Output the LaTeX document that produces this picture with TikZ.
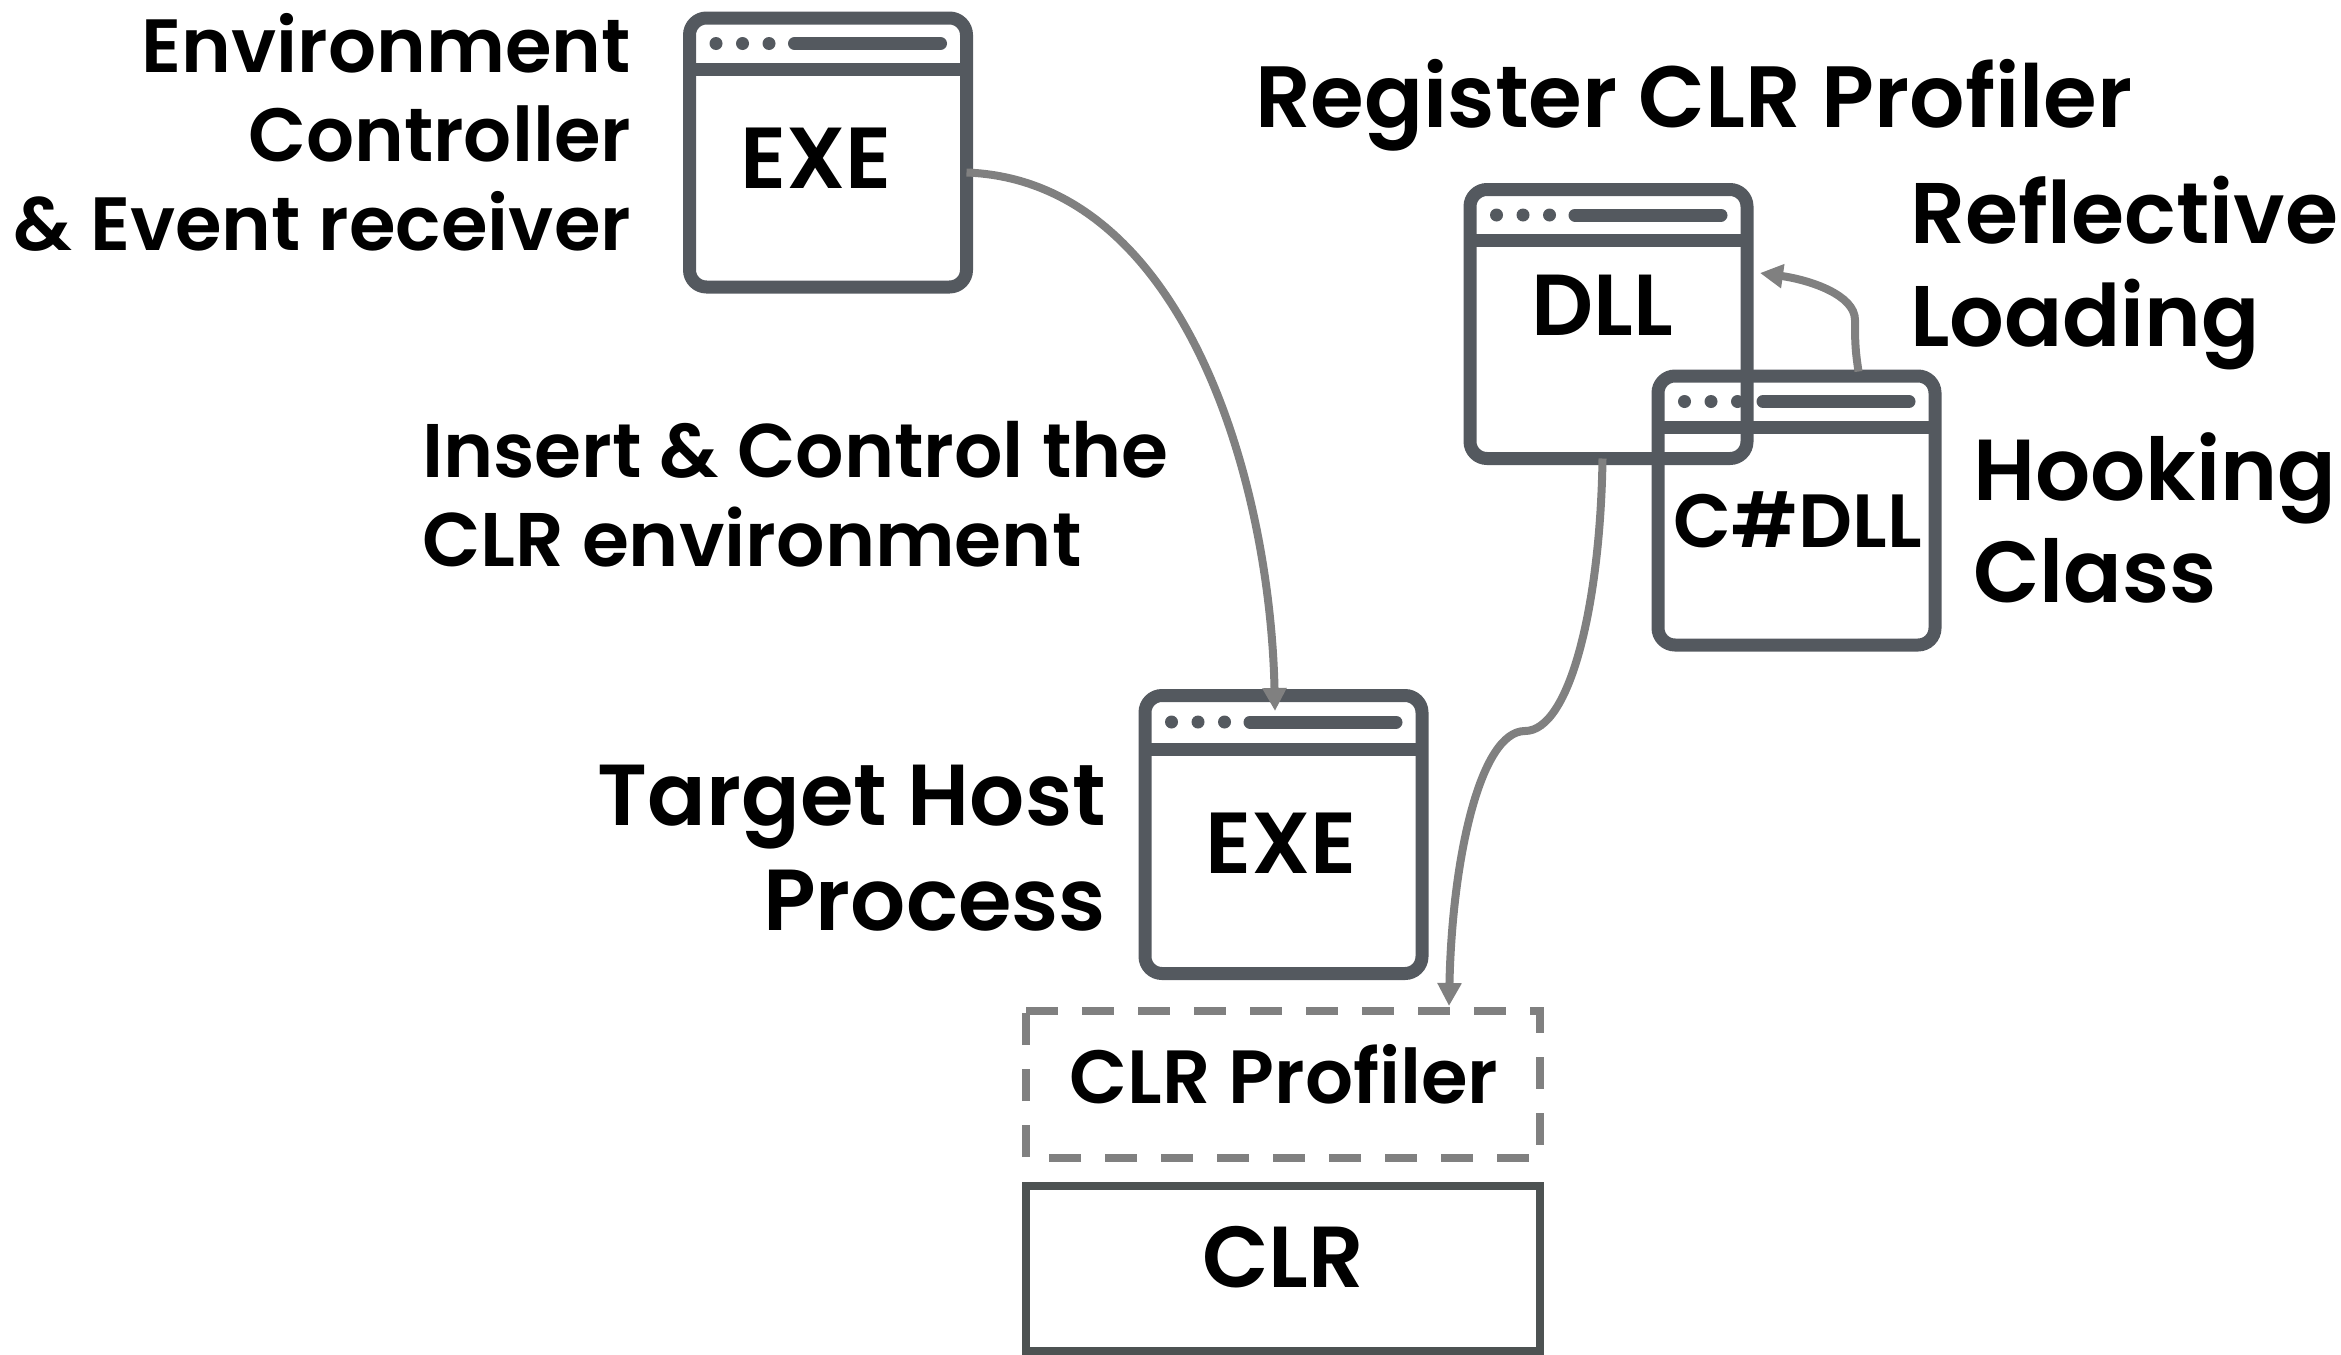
\documentclass[tikz,border=0pt]{standalone}
\usepackage{fontspec}
\setmainfont{Poppins SemiBold}
\usetikzlibrary{arrows.meta,calc}
\definecolor{winc}{HTML}{54595F}
\definecolor{linec}{HTML}{808080}
\definecolor{clrc}{HTML}{4D5252}
\tikzset{
  x=0.5pt,y=-0.5pt,
  win/.style={draw=winc,line width=6.5pt,rounded corners=8.5pt,minimum width=138.5pt,minimum height=134.5pt,inner sep=0pt,outer sep=0pt},
  conn/.style={draw=linec,line width=4pt,-{Triangle[length=11.5pt,width=11.5pt]}},
  lab/.style={inner sep=0pt,outer sep=0pt,anchor=base,text=black},
  big/.style={font=\fontsize{43.3}{52}\selectfont},
  mid/.style={font=\fontsize{37.7}{44.5}\selectfont},
}
\newcommand{\wdeco}[3]{%
  \path (#1.north west) coordinate (w);
  \foreach \d in {26.5,53,79.5} \fill[winc] ($(w)+(\d,#2)$) circle (3.25pt);
  \draw[winc,line width=6.5pt,line cap=round] ($(w)+(105,#2)$) -- ($(w)+(251,#2)$);
  \draw[winc,line width=6.5pt] ($(w)+(0,#3)$) -- ($(w)+(277,#3)$);
}
\begin{document}
\begin{tikzpicture}
\useasboundingbox (0,0) rectangle (2341,1355);
\node[win] (exeA) at (828,152.5) {}; \wdeco{exeA}{25.5}{51}
\node[win] (dll) at (1608.5,324) {}; \wdeco{dll}{25.5}{51}
\node[win] (cs) at (1796.5,510.5) {}; \wdeco{cs}{25.5}{51}
\node[win,minimum height=139pt] (exeB) at (1283.5,834.5) {}; \wdeco{exeB}{26.5}{53.5}
\node[lab,big] (exeAt) at (816,188) {EXE};
\node[lab,big] (dllt) at (1602,335) {DLL};
\node[lab,mid] (cst) at (1798,547) {C\#DLL};
\node[lab,big] (exeBt) at (1281,873) {EXE};
\node[minimum width=257pt,minimum height=73.5pt,inner sep=0pt,outer sep=0pt] (prof) at (1283,1084.5) {};
\draw[draw=linec,line width=3.75pt,dash pattern=on 16pt off 12pt] (prof.north west) -- (prof.north east) -- (prof.south east) -- (prof.south west) -- cycle;
\node[lab,mid] (proft) at (1284,1103) {CLR Profiler};
\node[draw=clrc,line width=3.75pt,minimum width=257pt,minimum height=82.5pt,inner sep=0pt,outer sep=0pt] (clr) at (1283,1268.5) {};
\node[lab,big] (clrt) at (1283,1287) {CLR};
\node[lab,mid,align=right,anchor=base east] (envt) at (631,250) {Environment\\Controller\\\& Event receiver};
\node[lab,align=left,anchor=base west,font=\fontsize{38}{44.5}\selectfont] (ins) at (422,566) {Insert \& Control the\\CLR environment};
\node[lab,big,align=right,anchor=base east,font=\fontsize{43.3}{52.5}\selectfont] (tgt) at (1106,930) {Target Host\\Process};
\node[lab,anchor=base west,font=\fontsize{43.5}{52}\selectfont] (reg) at (1255,127) {Register CLR Profiler};
\node[lab,align=left,anchor=base west,font=\fontsize{43}{51.5}\selectfont] (refl) at (1910,346) {Reflective\\Loading};
\node[lab,big,align=left,anchor=base west,font=\fontsize{43.3}{51}\selectfont] (hook) at (1973,602) {Hooking\\Class};
\draw[conn] ([yshift=-10pt]exeA.east) .. controls +(217,8) and (1270,480) .. ([xshift=-4.25pt,yshift=-7.75pt]exeB.north);
\draw[conn] ([xshift=-3pt]dll.south) .. controls +(-2,145) and (1570,731) .. (1525,731) .. controls (1480,731) and (1452,860) .. ([xshift=211.5pt,yshift=2.5pt]prof.north west);
\draw[conn] ([xshift=31pt,yshift=2.25pt]cs.north) .. controls +(-3,-20) and +(0,25) .. (1855,320) .. controls (1855,295) and (1810,280) .. (1760,273);
\end{tikzpicture}
\end{document}
